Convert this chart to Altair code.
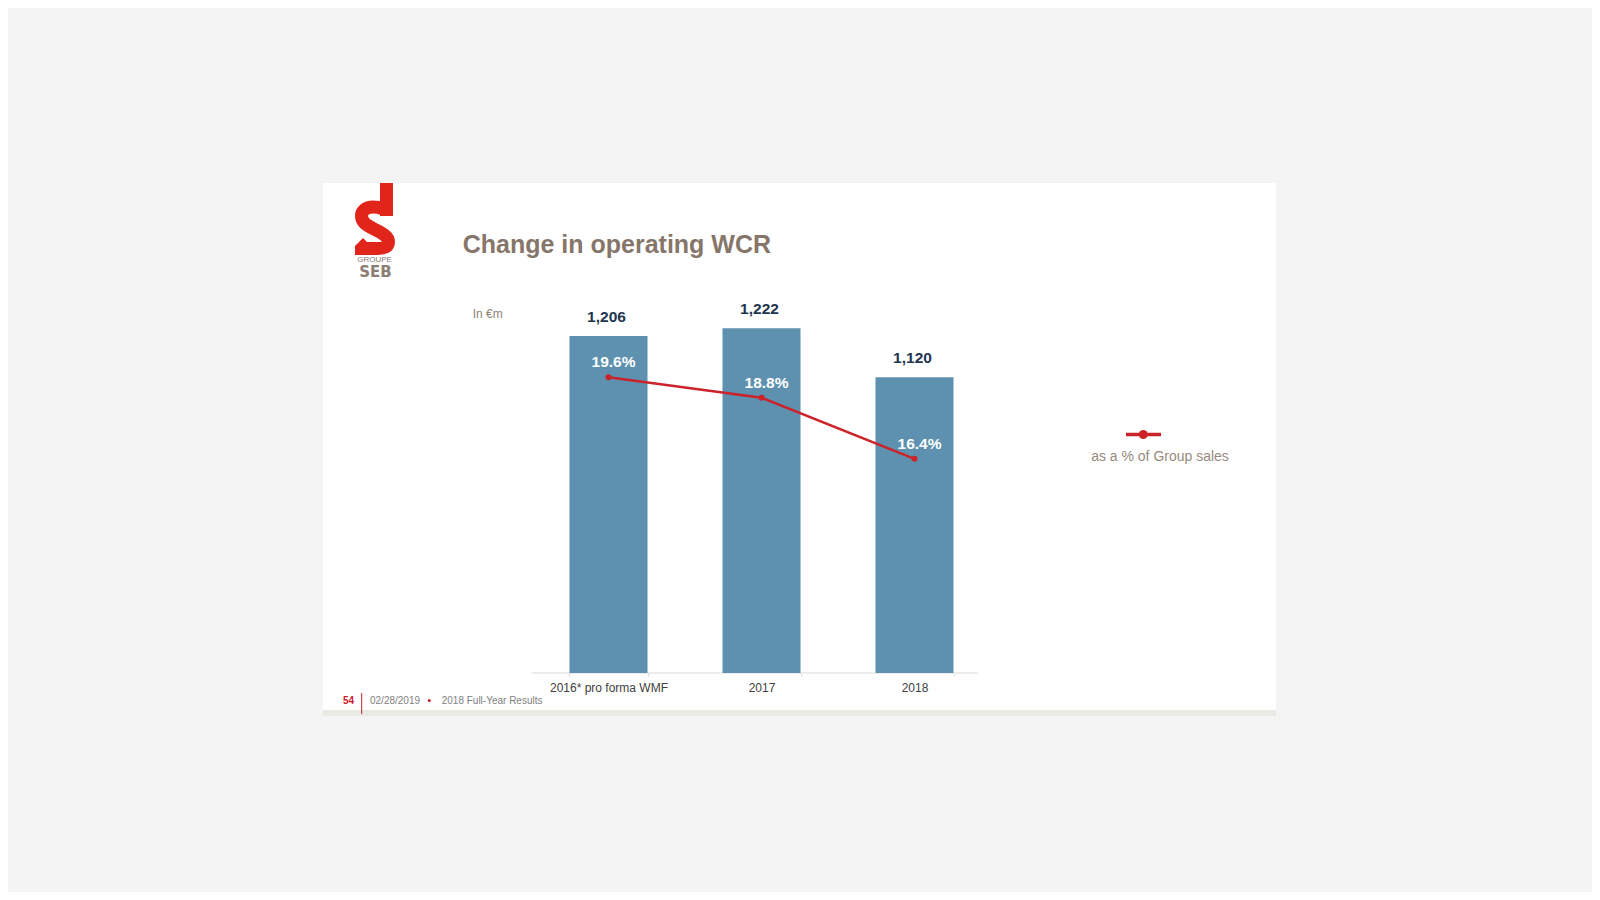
import altair as alt
import pandas as pd

# ---------------- data ----------------
categories = ["2016* pro forma WMF", "2017", "2018"]
wcr_values = [1206, 1222, 1120]
wcr_labels = ["1,206", "1,222", "1,120"]
pct_values = [19.6, 18.8, 16.4]
pct_labels = ["19.6%", "18.8%", "16.4%"]

df = pd.DataFrame({
    "cat": categories,
    "wcr": wcr_values,
    "wcr_label": wcr_labels,
    "pct": pct_values,
    "pct_label": pct_labels,
})

# ---------------- layout ----------------
W, H = 459, 374          # plot area
OX, OY = 532, 299        # screen position of plot area origin
FONT = "Liberation Sans"
BAR = "#5d91af"
RED = "#cc2229"
LOGO_RED = "#e1251b"
BG = "#f4f4f4"


def vx(px):
    return alt.value(px - OX)


def vy(py):
    return alt.value(py - OY)


one = alt.Data(values=[{"k": 1}])

x_enc = alt.X(
    "cat:N",
    sort=categories,
    scale=alt.Scale(paddingInner=0.49, paddingOuter=0.245),
    axis=alt.Axis(
        title=None, labelAngle=0, labelFont=FONT, labelFontSize=12,
        labelColor="#404040", domain=False,
        tickColor="#d9d9d9", tickSize=3, tickBand="extent",
        labelPadding=15.7, labelBaseline="alphabetic", zindex=1,
        labelOverlap=False, labelLimit=300,
    ),
)
y_wcr = alt.Y("wcr:Q", scale=alt.Scale(domain=[504.5, 1283], zero=False, nice=False), axis=None)
y_pct = alt.Y("pct:Q", scale=alt.Scale(domain=[8, 22.67], zero=False, nice=False), axis=None)

# ---------------- decorations ----------------
panel = alt.Chart(one).mark_rect(fill="white").encode(
    x=vx(323), x2=vx(1276), y=vy(183), y2=vy(710))
strip = alt.Chart(one).mark_rect(fill="#eae9e4").encode(
    x=vx(323), x2=vx(1276), y=vy(710), y2=vy(716))
axis_line = alt.Chart(one).mark_rule(color="#d9d9d9", strokeWidth=1).encode(
    x=vx(531.7), x2=vx(978), y=vy(673))

# logo (anchor at screen 375,220)
stem_path = "M5,-37 L18,-37 L18,-4 L5,-4 Z M-20,35 L-20,26 L-12,18 L-4,26 L-4,35 Z"
s_path = ("M11.5,-5 C11.5,-11 5,-13 -2,-13 C-9,-13 -13.5,-9 -13.5,-4 "
          "C-13.5,2 -9,5 -1,9 C7,13 13.5,16 13.5,22 C13.5,27 9,28.5 3,28.5 L-9,28.5")
logo_fill = alt.Chart(one).mark_point(
    shape=stem_path, size=4, filled=True, fill=LOGO_RED, strokeWidth=0, opacity=1
).encode(x=vx(375), y=vy(220))
logo_s = alt.Chart(one).mark_point(
    shape=s_path, size=4, filled=False, stroke=LOGO_RED, strokeWidth=13,
    strokeCap="butt", opacity=1
).encode(x=vx(375), y=vy(220))
groupe = alt.Chart(one).mark_text(
    text="GROUPE", font=FONT, fontSize=8, color="#8a7d73", align="center",
    baseline="alphabetic"
).encode(x=vx(374.5), y=vy(262))
seb = alt.Chart(one).mark_text(
    text="SEB", font="DejaVu Sans", fontSize=15, fontWeight="bold", color="#8a7d73",
    align="center", baseline="alphabetic"
).encode(x=vx(375.5), y=vy(276.5))

title = alt.Chart(one).mark_text(
    text="Change in operating WCR", font=FONT, fontSize=25, fontWeight="bold",
    color="#86766a", align="left", baseline="alphabetic"
).encode(x=vx(462.7), y=vy(253.3))
unit = alt.Chart(one).mark_text(
    text="In €m", font=FONT, fontSize=12, color="#8f8276", align="left",
    baseline="alphabetic"
).encode(x=vx(472.7), y=vy(317.7))

# legend
leg_line = alt.Chart(one).mark_rule(color=RED, strokeWidth=3.5).encode(
    x=vx(1126), x2=vx(1161), y=vy(434.5))
leg_dot = alt.Chart(one).mark_point(
    shape="circle", size=80, filled=True, color=RED, opacity=1
).encode(x=vx(1143.3), y=vy(434.5))
leg_text = alt.Chart(one).mark_text(
    text="as a % of Group sales", font=FONT, fontSize=14, color="#978b7e",
    align="center", baseline="alphabetic"
).encode(x=vx(1160), y=vy(460.7))

# footer
f_num = alt.Chart(one).mark_text(
    text="54", font=FONT, fontSize=10, fontWeight="bold", color="#c8202a",
    align="center", baseline="alphabetic"
).encode(x=vx(348.5), y=vy(704))
f_bar = alt.Chart(one).mark_rule(color="#c8202a", strokeWidth=1).encode(
    x=vx(361.7), y=vy(693), y2=vy(714))
f_date = alt.Chart(one).mark_text(
    text="02/28/2019", font=FONT, fontSize=10, color="#808080", align="left",
    baseline="alphabetic"
).encode(x=vx(370), y=vy(704))
f_dot = alt.Chart(one).mark_point(
    shape="circle", size=9, filled=True, color="#c8202a", opacity=1
).encode(x=vx(429.3), y=vy(700.5))
f_text = alt.Chart(one).mark_text(
    text="2018 Full-Year Results", font=FONT, fontSize=10, color="#808080",
    align="left", baseline="alphabetic"
).encode(x=vx(441.7), y=vy(704))

# ---------------- data layers ----------------
base = alt.Chart(df)
bars = base.mark_bar(color=BAR).encode(x=x_enc, y=y_wcr, y2=alt.Y2(datum=504.5))
bar_text = base.mark_text(
    font=FONT, fontSize=15.5, fontWeight="bold", color="#1e3550",
    baseline="alphabetic", dy=-14, dx=-2
).encode(x=x_enc, y=y_wcr, text="wcr_label:N")

line = base.mark_line(color=RED, strokeWidth=2.5).encode(x=x_enc, y=y_pct)
pts = base.mark_point(shape="circle", size=36, filled=True, color=RED, opacity=1).encode(
    x=x_enc, y=y_pct)
pct_text = base.mark_text(
    font=FONT, fontSize=15.5, fontWeight="bold", color="white",
    baseline="alphabetic", dy=-10, dx=5
).encode(x=x_enc, y=y_pct, text="pct_label:N")

chart = alt.layer(
    panel, strip, axis_line, logo_fill, logo_s, groupe, seb, title, unit,
    leg_line, leg_dot, leg_text, f_num, f_bar, f_date, f_dot, f_text,
    bars, bar_text, line, pts, pct_text,
).resolve_scale(y="independent").properties(
    width=W, height=H,
    padding={"left": OX - 8, "top": OY - 8, "right": 1592 - (OX + W), "bottom": 892 - (OY + H)},
    autosize=alt.AutoSizeParams(type="none"),
    background=BG,
).configure_view(stroke=None)

chart.save("out.html", embed_options={"renderer": "svg", "actions": False})
